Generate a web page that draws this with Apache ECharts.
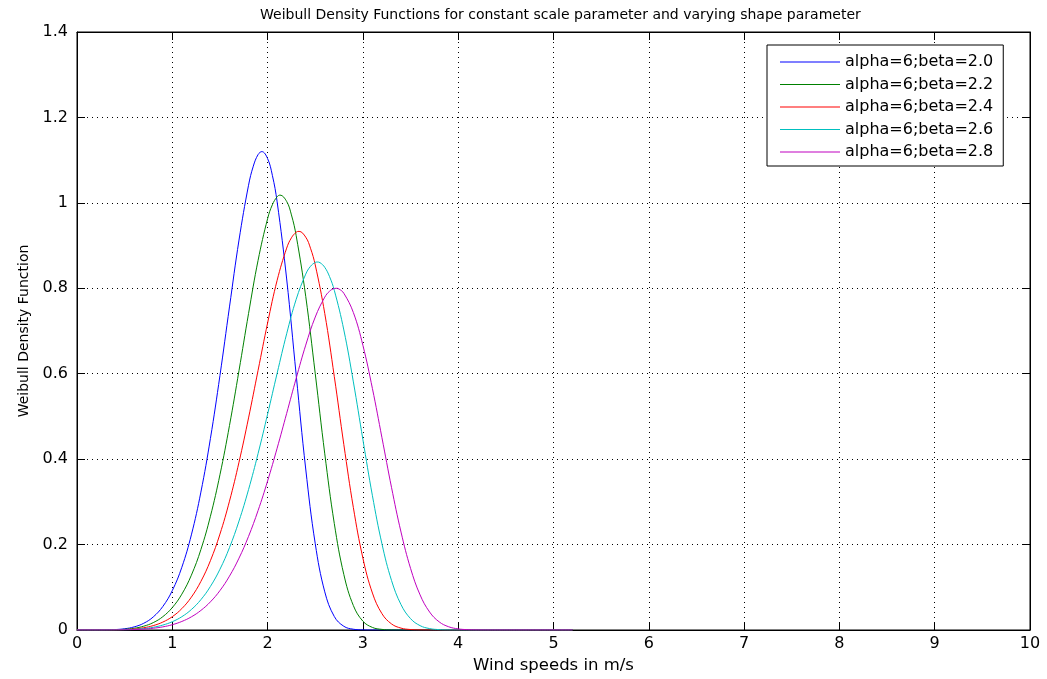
<!DOCTYPE html>
<html>
<head>
<meta charset="utf-8">
<script src="https://cdn.jsdelivr.net/npm/echarts@6/dist/echarts.min.js"></script>
<style>
html,body{margin:0;padding:0;background:#fff;}
#chart{width:1047px;height:679px;}
</style>
</head>
<body>
<div id="chart"></div>
<script>
const chartTitle = 'Weibull Density Functions for constant scale parameter and varying shape parameter';
const xName = 'Wind speeds in m/s';
const yName = 'Weibull Density Function';
const seriesNames = ['alpha=6;beta=2.0','alpha=6;beta=2.2','alpha=6;beta=2.4','alpha=6;beta=2.6','alpha=6;beta=2.8'];
const seriesColors = ['#0000ff','#008000','#ff0000','#00bfbf','#bf00bf'];

const windSpeeds = [0,0.1,0.2,0.3,0.4,0.5,0.6,0.7,0.8,0.9,1.0,1.1,1.2,1.3,1.4,1.5,1.6,1.7,1.8,1.9,2.0,2.1,2.2,2.3,2.4,2.5,2.6,2.7,2.8,2.9,3.0,3.1,3.2,3.3,3.4,3.5,3.6,3.7,3.8,3.9,4.0,4.1,4.2,4.3,4.4,4.5,4.6,4.7,4.8,4.9,5.0,5.1,5.2];

const beta20 = [0,0,0,0.0002,0.001,0.0029,0.0073,0.0157,0.0306,0.0549,0.0923,0.1469,0.2227,0.3228,0.4483,0.5958,0.7564,0.9129,1.0412,1.1130,1.1036,1.0025,0.8218,0.5971,0.3769,0.2020,0.0893,0.0316,0.0087,0.0018,0.0003,0,0,0,0,0,0,0,0,0,0,0,0,0,0,0,0,0,0,0,0,0,0];
const beta22 = [0,0,0,0.0001,0.0005,0.0017,0.0041,0.0089,0.0173,0.0311,0.0525,0.0839,0.1283,0.1883,0.2663,0.3634,0.4786,0.6073,0.7408,0.8653,0.9629,1.0143,1.0033,0.9230,0.7811,0.6000,0.4124,0.2491,0.1299,0.0572,0.0207,0.0060,0.0014,0.0002,0,0,0,0,0,0,0,0,0,0,0,0,0,0,0,0,0,0,0];
const beta24 = [0,0,0,0.0001,0.0003,0.0010,0.0024,0.0053,0.0103,0.0185,0.0312,0.0501,0.0769,0.1137,0.1623,0.2246,0.3016,0.3929,0.4965,0.6078,0.7188,0.8186,0.8940,0.9313,0.9197,0.8546,0.7408,0.5932,0.4340,0.2865,0.1683,0.0865,0.0382,0.0143,0.0044,0.0011,0.0002,0,0,0,0,0,0,0,0,0,0,0,0,0,0,0,0];
const beta26 = [0,0,0,0.0001,0.0002,0.0006,0.0015,0.0033,0.0064,0.0115,0.0194,0.0311,0.0479,0.0710,0.1020,0.1422,0.1929,0.2551,0.3287,0.4130,0.5053,0.6010,0.6935,0.7742,0.8331,0.8606,0.8490,0.7952,0.7024,0.5808,0.4457,0.3143,0.2016,0.1162,0.0594,0.0266,0.0102,0.0033,0.0009,0.0002,0,0,0,0,0,0,0,0,0,0,0,0,0];
const beta28 = [0,0,0,0,0.0001,0.0004,0.0010,0.0021,0.0041,0.0073,0.0124,0.0200,0.0308,0.0458,0.0659,0.0923,0.1261,0.1682,0.2192,0.2796,0.3489,0.4256,0.5071,0.5894,0.6669,0.7327,0.7793,0.7996,0.7883,0.7432,0.6665,0.5652,0.4501,0.3341,0.2293,0.1443,0.0822,0.0421,0.0191,0.0076,0.0026,0.0008,0.0002,0,0,0,0,0,0,0,0,0,0];

// extra readings around each peak
const peakX20 = [1.85,1.94,2.05];
const peakY20 = [1.0859,1.1200,1.0644];
const peakX22 = [2.05,2.13,2.25];
const peakY22 = [0.9956,1.0181,0.9718];
const peakX24 = [2.25,2.33,2.45];
const peakY24 = [0.9182,0.9333,0.8938];
const peakX26 = [2.45,2.52,2.55,2.65];
const peakY26 = [0.8514,0.8615,0.8600,0.8273];
const peakX28 = [2.65,2.72,2.75];
const peakY28 = [0.7931,0.8000,0.7982];

const seriesValues = [beta20, beta22, beta24, beta26, beta28];
const peakXs = [peakX20, peakX22, peakX24, peakX26, peakX28];
const peakYs = [peakY20, peakY22, peakY24, peakY26, peakY28];

function buildData(k){
  const pts = windSpeeds.map((x, i) => [x, seriesValues[k][i]]);
  peakXs[k].forEach((x, i) => pts.push([x, peakYs[k][i]]));
  pts.sort((a, b) => a[0] - b[0]);
  return pts;
}

const FONT = 'DejaVu Sans';
const chart = echarts.init(document.getElementById('chart'), null, {renderer:'canvas'});

const gridLine = {show:true, lineStyle:{color:'#000', width:1, type:[1,4]}};
const tickIn = {show:true, inside:true, length:8, lineStyle:{color:'#000', width:1}};
const axisLine = {show:true, onZero:false, lineStyle:{color:'#000', width:1}};

chart.setOption({
  animation:false,
  backgroundColor:'#fff',
  title:{
    text: chartTitle,
    left: 255, top: 3,
    textStyle:{fontFamily:FONT, fontSize:14, fontWeight:'normal', color:'#000'}
  },
  legend:{
    orient:'vertical',
    left:767, top:45,
    backgroundColor:'#fff',
    borderColor:'#000', borderWidth:1,
    padding:[9,10,6,13],
    icon:'rect',
    itemWidth:60, itemHeight:1, itemGap:6.5,
    textStyle:{fontFamily:FONT, fontSize:16, color:'#000', lineHeight:16},
    data: seriesNames
  },
  grid:{left:77, right:17, top:32, bottom:49, show:true, borderColor:'#000', borderWidth:1, containLabel:false},
  xAxis:[{
    type:'value', min:0, max:10, interval:1, position:'bottom',
    name:xName, nameLocation:'middle', nameGap:26,
    nameTextStyle:{fontFamily:FONT, fontSize:16.5, color:'#000'},
    axisLine:axisLine, axisTick:tickIn, splitLine:gridLine,
    axisLabel:{fontFamily:FONT, fontSize:16, color:'#000', margin:6}
  },{
    type:'value', min:0, max:10, interval:1, position:'top',
    axisLine:axisLine, axisTick:tickIn, splitLine:{show:false}, axisLabel:{show:false}
  }],
  yAxis:[{
    type:'value', min:0, max:1.4, interval:0.2, position:'left',
    name:yName, nameLocation:'middle', nameGap:46,
    nameTextStyle:{fontFamily:FONT, fontSize:14, color:'#000'},
    axisLine:axisLine, axisTick:tickIn, splitLine:gridLine,
    axisLabel:{fontFamily:FONT, fontSize:16, color:'#000', margin:9}
  },{
    type:'value', min:0, max:1.4, interval:0.2, position:'right',
    axisLine:axisLine, axisTick:tickIn, splitLine:{show:false}, axisLabel:{show:false}
  }],
  series: seriesNames.map((name, k) => ({
    name: name,
    type:'line',
    xAxisIndex:0, yAxisIndex:0,
    data: buildData(k),
    showSymbol:false, symbol:'none',
    smooth:0.4,
    clip:true,
    color: seriesColors[k],
    itemStyle:{color:seriesColors[k]},
    lineStyle:{color:seriesColors[k], width:1}
  }))
});
</script>
</body>
</html>
